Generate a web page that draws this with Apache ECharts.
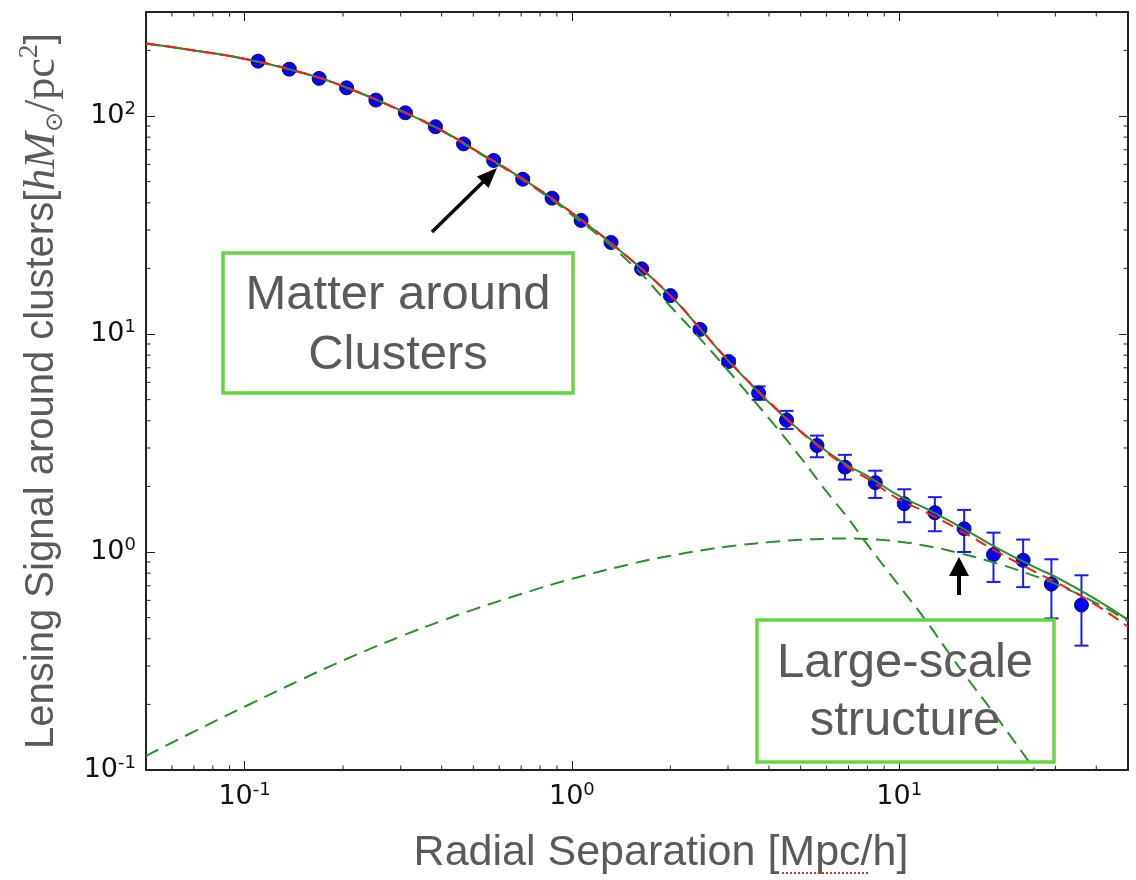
<!DOCTYPE html>
<html>
<head>
<meta charset="utf-8">
<script src="https://cdn.jsdelivr.net/npm/echarts@6/dist/echarts.min.js"></script>
<style>
  html, body { margin: 0; background: #fff; }
  #chart { width: 1136px; height: 880px; }
</style>
</head>
<body>
<div id="chart"></div>
<script>
// measured stacked lensing profile (blue points)
const radius = [0.110, 0.137, 0.169, 0.205, 0.252, 0.310, 0.383, 0.467, 0.577, 0.708,
  0.870, 1.067, 1.317, 1.634, 2.000, 2.463, 3.011, 3.720, 4.528, 5.607,
  6.827, 8.45, 10.36, 12.85, 15.79, 19.41, 23.91, 29.17, 36.04];
const signal = [178.5, 164.0, 148.8, 134.7, 118.3, 103.5, 89.3, 74.5, 62.5, 51.3,
  42.0, 33.2, 26.3, 19.9, 15.0, 10.5, 7.48, 5.36, 4.03, 3.08,
  2.45, 2.08, 1.665, 1.514, 1.279, 0.973, 0.916, 0.712, 0.571];
const errLow = [176.0, 161.7, 146.6, 132.7, 116.5, 101.9, 88.0, 73.4, 61.6, 50.5,
  41.4, 32.7, 25.9, 19.6, 14.8, 10.3, 7.27, 4.99, 3.67, 2.72,
  2.15, 1.77, 1.37, 1.245, 1.0, 0.729, 0.69, 0.496, 0.372];
const errHigh = [181.0, 166.3, 151.0, 136.7, 120.1, 105.1, 90.6, 75.6, 63.4, 52.1,
  42.6, 33.7, 26.7, 20.2, 15.2, 10.7, 7.74, 5.75, 4.44, 3.42,
  2.79, 2.36, 1.94, 1.785, 1.56, 1.227, 1.14, 0.926, 0.782];

// model curves
const modelR = [0.05, 0.07, 0.1, 0.15, 0.2, 0.3, 0.4, 0.5, 0.7, 1, 1.5, 2, 2.5, 3, 4, 5,
  6, 7, 8, 10, 12, 15, 20, 26, 30, 40, 50];
const totalFit = [215, 200, 183, 158, 137, 106, 85.9, 70.5, 52, 36, 22.2, 15.0, 10.3, 7.55, 4.85, 3.58,
  2.9, 2.48, 2.23, 1.81, 1.59, 1.33, 1.04, 0.85, 0.77, 0.605, 0.488];
const altFit = [215, 200, 183, 158, 137, 106, 85.9, 70.5, 52, 36, 22.2, 15.0, 10.35, 7.6, 4.9, 3.56,
  2.86, 2.43, 2.17, 1.74, 1.53, 1.28, 1.0, 0.81, 0.73, 0.57, 0.454];
const oneHalo = [215, 200, 182.8, 157.7, 136.7, 105.6, 85.4, 70.0, 51.4, 35.2, 21.3, 13.4, 9.3, 6.8, 4.1, 2.71,
  1.89, 1.42, 1.08, 0.70, 0.49, 0.306, 0.172, 0.10, 0.075, 0.042, 0.027];
const twoHalo = [0.116, 0.150, 0.195, 0.261, 0.318, 0.41, 0.483, 0.544, 0.642, 0.753, 0.878, 0.961, 1.018, 1.06, 1.11, 1.137,
  1.15, 1.154, 1.148, 1.115, 1.069, 0.995, 0.884, 0.775, 0.714, 0.583, 0.482];

// axis ranges and minor tick values
const X_MIN = 0.05, X_MAX = 50, Y_MIN = 0.1, Y_MAX = 300;
const xMinorTicks = [0.06, 0.07, 0.08, 0.09, 0.2, 0.3, 0.4, 0.5, 0.6, 0.7, 0.8, 0.9,
  2, 3, 4, 5, 6, 7, 8, 9, 20, 30, 40];
const yMinorTicks = [0.2, 0.3, 0.4, 0.5, 0.6, 0.7, 0.8, 0.9, 2, 3, 4, 5, 6, 7, 8, 9,
  20, 30, 40, 50, 60, 70, 80, 90, 200];

const zip = (xs, ys) => xs.map((x, i) => [x, ys[i]]);

const GREEN = '#2a8f2a';
const BLUE = '#0000ff';
const GREY = '#5a5a5a';
const BOX = '#66d63f';

function powLabel(v) {
  const e = Math.round(Math.log10(v));
  if (Math.abs(Math.log10(v) - e) > 1e-6) return '';
  return '{b|10}{s|' + e + '}';
}

const tickRich = {
  b: { fontFamily: 'DejaVu Sans', fontSize: 27, color: '#111', lineHeight: 32 },
  s: { fontFamily: 'DejaVu Sans', fontSize: 18, color: '#111', lineHeight: 32, verticalAlign: 'top' }
};

const frameLine = { show: true, lineStyle: { color: '#222', width: 2 } };
const majorTick = { show: true, inside: true, length: 9, lineStyle: { color: '#222', width: 1 } };

function renderMinorTicks(params, api) {
  const len = 4.5;
  const style = { stroke: '#222', lineWidth: 1 };
  const children = [];
  xMinorTicks.forEach((v) => {
    const b = api.coord([v, Y_MIN]);
    const t = api.coord([v, Y_MAX]);
    children.push({ type: 'line', shape: { x1: b[0], y1: b[1], x2: b[0], y2: b[1] - len }, style });
    children.push({ type: 'line', shape: { x1: t[0], y1: t[1], x2: t[0], y2: t[1] + len }, style });
  });
  yMinorTicks.forEach((v) => {
    const l = api.coord([X_MIN, v]);
    const r = api.coord([X_MAX, v]);
    children.push({ type: 'line', shape: { x1: l[0], y1: l[1], x2: l[0] + len, y2: l[1] }, style });
    children.push({ type: 'line', shape: { x1: r[0], y1: r[1], x2: r[0] - len, y2: r[1] }, style });
  });
  return { type: 'group', children };
}

function renderErrorBar(params, api) {
  const x = api.value(0);
  const lo = api.coord([x, api.value(1)]);
  const hi = api.coord([x, api.value(2)]);
  const w = 7;
  const style = { stroke: '#1a1aff', lineWidth: 2 };
  return {
    type: 'group',
    children: [
      { type: 'line', shape: { x1: lo[0], y1: lo[1], x2: hi[0], y2: hi[1] }, style },
      { type: 'line', shape: { x1: lo[0] - w, y1: lo[1], x2: lo[0] + w, y2: lo[1] }, style },
      { type: 'line', shape: { x1: hi[0] - w, y1: hi[1], x2: hi[0] + w, y2: hi[1] }, style }
    ]
  };
}

const chart = echarts.init(document.getElementById('chart'), null, { renderer: 'canvas' });

const option = {
  backgroundColor: '#fff',
  animation: false,
  grid: { left: 146, right: 8, top: 12, bottom: 108 },
  xAxis: [
    {
      type: 'log', logBase: 10, min: X_MIN, max: X_MAX, position: 'bottom',
      axisLine: frameLine, axisTick: majorTick, splitLine: { show: false },
      axisLabel: { margin: 11, fontSize: 27, fontFamily: 'DejaVu Sans', color: '#111',
        formatter: powLabel, rich: tickRich, showMinLabel: false, showMaxLabel: false },
      name: 'Radial Separation [Mpc/h]', nameLocation: 'middle', nameGap: 62,
      nameTextStyle: { fontFamily: 'Liberation Sans', fontSize: 43, color: GREY, padding: [0, 0, 0, 48] }
    },
    {
      type: 'log', logBase: 10, min: X_MIN, max: X_MAX, position: 'top',
      axisLine: frameLine, axisTick: majorTick, splitLine: { show: false },
      axisLabel: { show: false }
    }
  ],
  yAxis: [
    {
      type: 'log', logBase: 10, min: Y_MIN, max: Y_MAX, position: 'left',
      axisLine: frameLine, axisTick: majorTick, splitLine: { show: false },
      axisLabel: { margin: 10, fontSize: 27, fontFamily: 'DejaVu Sans', color: '#111',
        formatter: powLabel, rich: tickRich, showMaxLabel: false },
      name: '{a|Lensing Signal around clusters[}{m|hM}{o|⊙}{r|/pc}{p|2}{a|]}',
      nameLocation: 'middle', nameRotate: 90, nameGap: 78,
      nameTextStyle: {
        rich: {
          a: { fontFamily: 'Liberation Sans', fontSize: 40, color: GREY, lineHeight: 52 },
          m: { fontFamily: 'Liberation Serif', fontStyle: 'italic', fontSize: 44, color: GREY, lineHeight: 52 },
          o: { fontFamily: 'DejaVu Sans', fontSize: 24, color: GREY, lineHeight: 40, verticalAlign: 'bottom' },
          r: { fontFamily: 'Liberation Serif', fontSize: 44, color: GREY, lineHeight: 52 },
          p: { fontFamily: 'Liberation Serif', fontSize: 28, color: GREY, lineHeight: 34, verticalAlign: 'top' }
        }
      }
    },
    {
      type: 'log', logBase: 10, min: Y_MIN, max: Y_MAX, position: 'right',
      axisLine: frameLine, axisTick: majorTick, splitLine: { show: false },
      axisLabel: { show: false }
    }
  ],
  series: [
    {
      type: 'custom', name: 'minor ticks', silent: true, z: 1,
      renderItem: renderMinorTicks, data: [[X_MIN, Y_MIN]]
    },
    {
      type: 'custom', name: 'errors', silent: true, z: 2,
      renderItem: renderErrorBar,
      encode: { x: 0, y: [1, 2] },
      data: radius.map((r, i) => [r, errLow[i], errHigh[i]])
    },
    {
      type: 'scatter', name: 'data', z: 3,
      symbol: 'circle', symbolSize: 14,
      itemStyle: { color: BLUE, borderColor: '#10104a', borderWidth: 1, opacity: 1 },
      data: zip(radius, signal)
    },
    {
      type: 'line', name: 'two-halo', z: 4, showSymbol: false, smooth: true,
      lineStyle: { color: GREEN, width: 2, type: [14, 8] },
      data: zip(modelR, twoHalo)
    },
    {
      type: 'line', name: 'one-halo', z: 4, showSymbol: false, smooth: true,
      lineStyle: { color: GREEN, width: 2, type: [14, 8] },
      data: zip(modelR, oneHalo)
    },
    {
      type: 'line', name: 'total', z: 5, showSymbol: false, smooth: true,
      lineStyle: { color: GREEN, width: 2 },
      data: zip(modelR, totalFit)
    },
    {
      type: 'line', name: 'alt', z: 6, showSymbol: false, smooth: true,
      lineStyle: { color: '#ff1a1a', width: 2, type: [12, 7] },
      data: zip(modelR, altFit)
    }
  ],
  graphic: [
    // annotation boxes
    { type: 'rect', z: 100, shape: { x: 223, y: 253, width: 350, height: 140 },
      style: { fill: 'none', stroke: BOX, lineWidth: 3.5 } },
    { type: 'text', z: 101, style: { text: 'Matter around', x: 398, y: 295, fill: GREY,
      fontFamily: 'Liberation Sans', fontSize: 49, align: 'center', verticalAlign: 'middle' } },
    { type: 'text', z: 101, style: { text: 'Clusters', x: 398, y: 355, fill: GREY,
      fontFamily: 'Liberation Sans', fontSize: 49, align: 'center', verticalAlign: 'middle' } },
    { type: 'rect', z: 100, shape: { x: 757, y: 620, width: 297, height: 142 },
      style: { fill: 'none', stroke: BOX, lineWidth: 3.5 } },
    { type: 'text', z: 101, style: { text: 'Large-scale', x: 905, y: 663, fill: GREY,
      fontFamily: 'Liberation Sans', fontSize: 49, align: 'center', verticalAlign: 'middle' } },
    { type: 'text', z: 101, style: { text: 'structure', x: 905, y: 721, fill: GREY,
      fontFamily: 'Liberation Sans', fontSize: 49, align: 'center', verticalAlign: 'middle' } },
    // arrows
    { type: 'line', z: 102, shape: { x1: 432, y1: 232, x2: 483, y2: 182 },
      style: { stroke: '#000', lineWidth: 3.5 } },
    { type: 'polygon', z: 102, shape: { points: [[497, 168], [488.5, 188], [477, 176.5]] },
      style: { fill: '#000' } },
    { type: 'line', z: 102, shape: { x1: 959, y1: 595, x2: 959, y2: 574 },
      style: { stroke: '#000', lineWidth: 4 } },
    { type: 'polygon', z: 102, shape: { points: [[959, 557], [969, 576], [949, 576]] },
      style: { fill: '#000' } },
    // spell-check squiggle under "Mpc"
    { type: 'line', z: 102, shape: { x1: 782, y1: 873, x2: 868, y2: 873 },
      style: { stroke: '#e03030', lineWidth: 2, lineDash: [2, 2] } }
  ]
};

chart.setOption(option);
</script>
</body>
</html>
